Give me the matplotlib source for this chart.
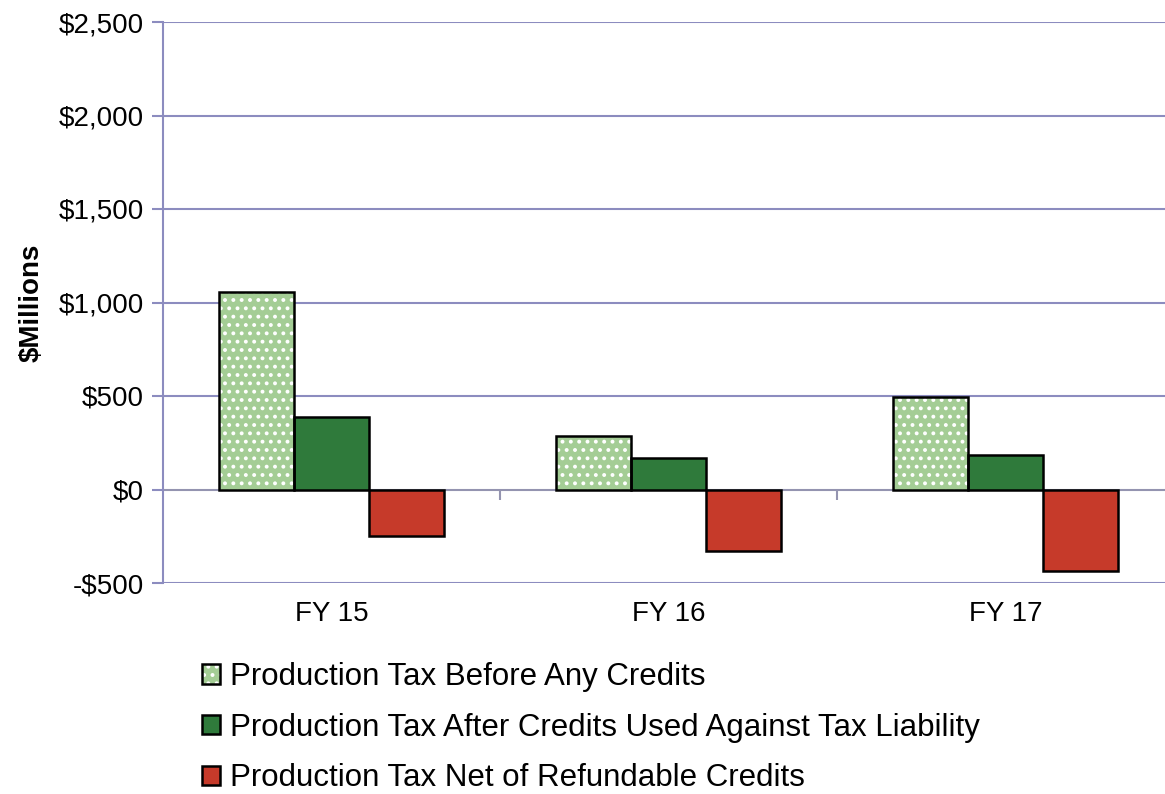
import matplotlib.pyplot as plt
import numpy as np
from matplotlib.patches import Patch

plt.rcParams["font.family"] = ["Liberation Sans", "DejaVu Sans"]

years = ["FY 15", "FY 16", "FY 17"]
before_credits = [1058, 288, 497]
after_credits = [390, 171, 187]
net_refundable = [-246, -331, -438]
series_labels = [
    "Production Tax Before Any Credits",
    "Production Tax After Credits Used Against Tax Liability",
    "Production Tax Net of Refundable Credits",
]
yticks = [-500, 0, 500, 1000, 1500, 2000, 2500]

light_green = "#a4cd95"
dark_green = "#2f7a3b"
red = "#c63a2a"
grid_color = "#8c8cbf"

fig = plt.figure(figsize=(11.65, 7.94), dpi=100)
ax = fig.add_axes([163 / 1165, 1 - 583 / 794, 1011 / 1165, (583 - 22) / 794])

x = np.arange(len(years))
w = 0.223

# hatched bars: white dots, then outline on top
plt.rcParams["hatch.linewidth"] = 1.6
ax.bar(x - w, before_credits, w, color=light_green, edgecolor="white",
       hatch="..", linewidth=0, zorder=3)
ax.bar(x - w, before_credits, w, facecolor="none", edgecolor="black",
       linewidth=1.8, zorder=4)
ax.bar(x, after_credits, w, color=dark_green, edgecolor="black",
       linewidth=1.8, zorder=3)
ax.bar(x + w, net_refundable, w, color=red, edgecolor="black",
       linewidth=1.8, zorder=3)

ax.set_xlim(-0.5, 2.5)
ax.set_ylim(-500, 2500)
ax.set_yticks(yticks)
ax.set_yticklabels([f"-${abs(v):,}" if v < 0 else f"${v:,}" for v in yticks],
                   fontsize=20)
ax.set_xticks(x)
ax.set_xticklabels(years, fontsize=20)
ax.tick_params(axis="x", length=0, pad=13)
ax.tick_params(axis="y", length=8, color=grid_color, width=1.5, pad=6)

for v in yticks:
    if v != 0:
        ax.axhline(v, color=grid_color, linewidth=1.5, zorder=1)
ax.axhline(0, color="#9494b0", linewidth=1.5, zorder=2)
# small category divider ticks on the zero line
ax.plot(x[:-1] + 0.5, [0] * (len(x) - 1), linestyle="none", marker=3,
        markersize=7, markeredgewidth=1.5, color="#9494b0", zorder=2)

for s in ["top", "right", "bottom"]:
    ax.spines[s].set_visible(False)
ax.spines["left"].set_color(grid_color)
ax.spines["left"].set_linewidth(1.5)

ax.set_ylabel("$Millions", fontsize=20, fontweight="bold", labelpad=10)

h1 = (Patch(facecolor=light_green, edgecolor="white", hatch="..", linewidth=0),
      Patch(facecolor="none", edgecolor="black", linewidth=1.8))
h2 = Patch(facecolor=dark_green, edgecolor="black", linewidth=1.8)
h3 = Patch(facecolor=red, edgecolor="black", linewidth=1.8)
fig.legend([h1, h2, h3], series_labels, loc="upper left",
           bbox_to_anchor=(202 / 1165, 1 - 662 / 794), frameon=False,
           fontsize=22.5, handlelength=0.58, handleheight=0.58,
           handletextpad=0.3, labelspacing=0.66, borderaxespad=0,
           borderpad=0)

fig.savefig("out.png", dpi=100)
